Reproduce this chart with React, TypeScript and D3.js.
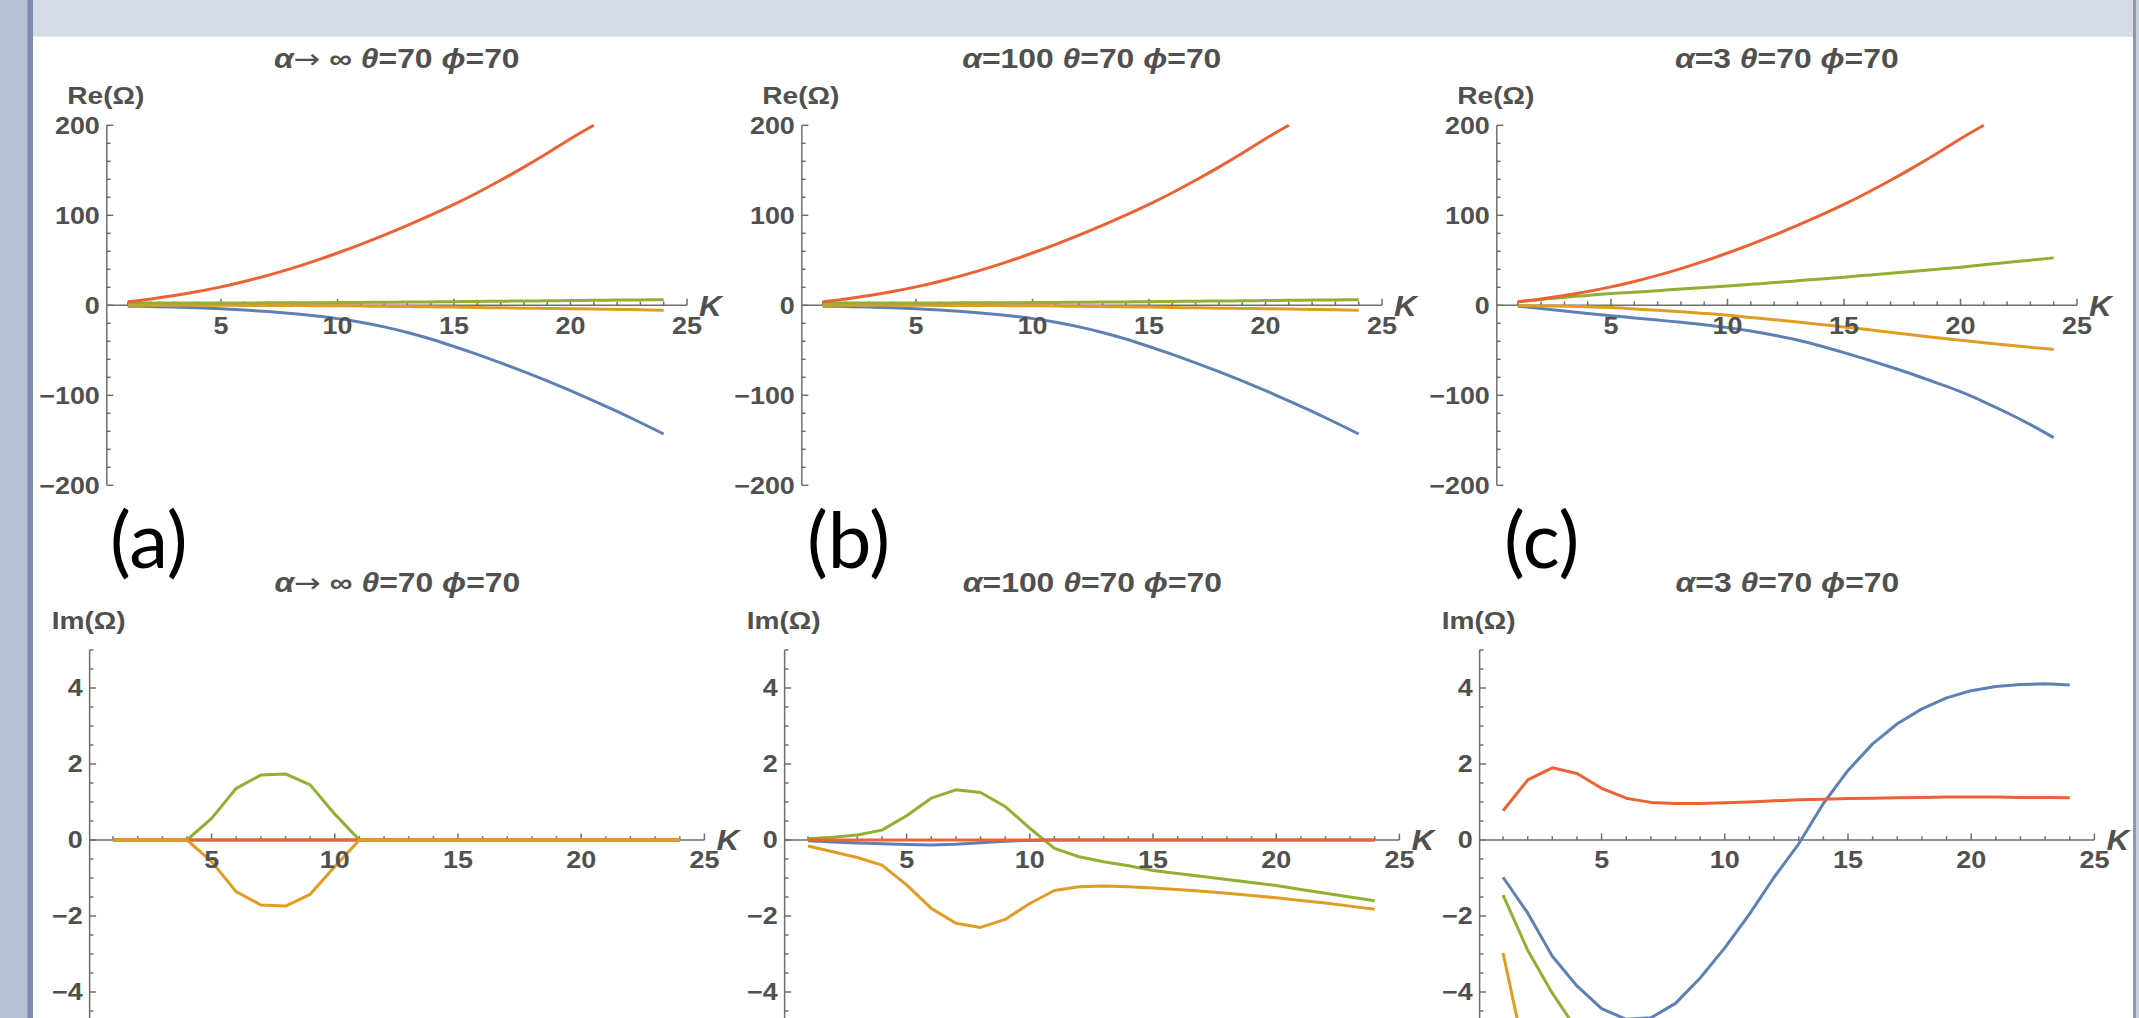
import React from 'react';
import * as d3 from 'd3';

// K sample points (x axis)
const kValues = [1, 2, 3, 4, 5, 6, 7, 8, 9, 10, 11, 12, 13, 14, 15, 16, 17, 18, 19, 20, 21, 22, 23, 24];

// ---- Re(Ω), top row ----
// red leaves the plot range at K=21 (200), same in all three columns
const reRed = [4, 7, 10.8, 15.3, 20.5, 26.5, 33.3, 40.8, 49.1, 58.1, 67.7, 77.9, 88.7, 100.1, 112.1, 125.1, 138.9, 153.5, 168.9, 185.1, 200];
const reBlueA = [-1, -1.4, -2, -2.8, -3.9, -5.3, -7, -9.1, -11.7, -14.8, -18.8, -24, -30.2, -37.4, -45.8, -54.6, -63.9, -73.7, -84, -94.8, -106.1, -117.9, -130.2, -143];
const reGreenA = [2.5, 2.5, 2.5, 2.5, 2.6, 2.6, 2.7, 2.8, 2.9, 3, 3.2, 3.4, 3.6, 3.8, 4, 4.3, 4.5, 4.8, 5, 5.2, 5.5, 5.8, 6, 6.3];
const reOrangeA = [0, 0, 0, 0, 0, -0.1, -0.2, -0.3, -0.4, -0.5, -0.8, -1.1, -1.4, -1.7, -2, -2.4, -2.8, -3.2, -3.5, -3.8, -4.2, -4.6, -5, -5.5];
// alpha=100 looks the same as alpha -> infinity
const reBlueB = reBlueA;
const reGreenB = reGreenA;
const reOrangeB = reOrangeA;
const reBlueC = [-1, -3.5, -6.3, -9, -11.6, -14, -16.4, -18.9, -21.6, -24.8, -28.6, -33.2, -38.6, -45.2, -52.6, -60.4, -68.6, -77.2, -86.4, -96, -107.2, -119.4, -132.6, -147];
const reGreenC = [3.7, 6.5, 9, 11, 13, 14.6, 16.3, 18, 19.7, 21.4, 23.3, 25.2, 27.2, 29.2, 31.3, 33.5, 35.7, 37.9, 40.1, 42.4, 45, 47.6, 50.1, 52.7];
const reOrangeC = [-0.5, -0.7, -1, -1.5, -2.5, -4, -5.5, -7.2, -9, -11, -13.5, -16, -18.6, -21.3, -24, -27, -30, -33, -36, -38.9, -41.6, -44.2, -46.7, -49];

// ---- Im(Ω), bottom row ----
const zeros = [0, 0, 0, 0, 0, 0, 0, 0, 0, 0, 0, 0, 0, 0, 0, 0, 0, 0, 0, 0, 0, 0, 0, 0];
const imBlueA = zeros;
const imRedA = zeros;
const imGreenA = [0, 0, 0, 0, 0.57, 1.36, 1.71, 1.74, 1.45, 0.68, 0, 0, 0, 0, 0, 0, 0, 0, 0, 0, 0, 0, 0, 0];
const imOrangeA = [0, 0, 0, 0, -0.57, -1.36, -1.71, -1.74, -1.43, -0.7, 0, 0, 0, 0, 0, 0, 0, 0, 0, 0, 0, 0, 0, 0];
const imBlueB = [-0.02, -0.05, -0.08, -0.1, -0.12, -0.13, -0.11, -0.07, -0.03, -0.01, 0, 0, 0, 0, 0, 0, 0, 0, 0, 0, 0, 0, 0, 0];
const imRedB = zeros;
const imGreenB = [0.03, 0.07, 0.13, 0.26, 0.64, 1.1, 1.32, 1.25, 0.88, 0.31, -0.22, -0.44, -0.57, -0.68, -0.8, -0.88, -0.96, -1.04, -1.12, -1.2, -1.3, -1.4, -1.5, -1.6];
const imOrangeB = [-0.16, -0.31, -0.46, -0.66, -1.18, -1.8, -2.19, -2.3, -2.09, -1.67, -1.33, -1.23, -1.21, -1.23, -1.26, -1.3, -1.35, -1.4, -1.46, -1.52, -1.59, -1.66, -1.74, -1.82];
const imRedC = [0.77, 1.58, 1.9, 1.75, 1.36, 1.1, 0.99, 0.96, 0.96, 0.98, 1.0, 1.03, 1.06, 1.07, 1.09, 1.1, 1.11, 1.12, 1.13, 1.13, 1.13, 1.12, 1.12, 1.11];
const imBlueC = [-0.98, -1.92, -3.06, -3.84, -4.44, -4.72, -4.68, -4.3, -3.63, -2.84, -1.95, -0.98, -0.1, 0.96, 1.83, 2.53, 3.06, 3.45, 3.74, 3.93, 4.04, 4.09, 4.11, 4.08];
// these run off the bottom of the picture, only the visible start is known
const imGreenC = [-1.45, -2.9, -4.03, -5.0, -5.8];
const imOrangeC = [-2.97, -6.0];

// labels / ticks
const alphaParts = ['\u2192', '=100', '=3'];
const thetaValue = 70;
const phiValue = 70;
const panelLetters = ['(a)', '(b)', '(c)'];
const kTicks = [5, 10, 15, 20, 25];
const reTicks = [-200, -100, 0, 100, 200];
const imTicks = [-4, -2, 0, 2, 4];

const BLUE = '#5E81B5';
const ORANGE = '#E19C24';
const GREEN = '#8FB032';
const RED = '#EB6235';

const FONT = '"Liberation Sans", Arial, sans-serif';
const GREY = '#505050';

const fmt = (v: number) => (v < 0 ? '\u2212' + Math.abs(v) : String(v));

function T({ x, y, anchor = 'start', size = 23, italic = false, dy = '0', children, fill = GREY, weight = 'bold', family = FONT, sx = 1.17 }: any) {
  return (
    <text transform={`translate(${x},${y}) scale(${sx},1)`} textAnchor={anchor} fontSize={size}
      fontStyle={italic ? 'italic' : 'normal'} fontWeight={weight} fill={fill} fontFamily={family} dy={dy}>
      {children}
    </text>
  );
}

type Series = { values: number[]; color: string };

function Plot({ id, col, row, series }: { id: string; col: number; row: number; series: Series[] }) {
  const top = row === 0;
  const x0 = top ? 104.5 + 695 * col : 88.4 + 695 * col;
  const pxK = top ? 23.3 : 24.64;
  const xs = d3.scaleLinear().domain([0, 25]).range([x0, x0 + 25 * pxK]);
  const ys = top
    ? d3.scaleLinear().domain([-200, 200]).range([485.3, 125.3])
    : d3.scaleLinear().domain([-5, 5]).range([1030, 650]);
  const axisX = xs(top ? 0.1 : 0.05);
  const axisY = ys(0);
  const majors = top ? reTicks : imTicks;
  const minors = top ? d3.range(-200, 201, 20) : d3.range(-5, 5.01, 0.5);
  const line = d3.line<[number, number]>()
    .x(d => xs(d[0]))
    .y(d => ys(d[1]))
    .curve(top ? d3.curveMonotoneX : d3.curveLinear);
  const [y1, y2] = ys.range();
  const titleY = top ? 68.3 : 591.6;
  const labelY = top ? 103.5 : 629;

  return (
    <g>
      <defs>
        <clipPath id={id}>
          <rect x={axisX} y={y2 - 2} width={xs(25.5) - axisX} height={y1 - y2 + 4} />
        </clipPath>
      </defs>
      {/* axes */}
      <g stroke="#6e6e6e" strokeWidth={1.5} fill="none">
        <line x1={axisX} x2={axisX} y1={y1} y2={y2} />
        <line x1={axisX} x2={xs(25)} y1={axisY} y2={axisY} />
        {minors.map(v => (
          <line key={'ym' + v} x1={axisX} x2={axisX + (majors.includes(v) ? 6.5 : 3.8)} y1={ys(v)} y2={ys(v)} />
        ))}
        {d3.range(1, 26).map(k => (
          <line key={'xm' + k} x1={xs(k)} x2={xs(k)} y1={axisY} y2={axisY - (k % 5 === 0 ? 6.5 : 3.8)} />
        ))}
      </g>
      {/* data */}
      <g clipPath={`url(#${id})`} fill="none" strokeWidth={3} strokeLinejoin="round">
        {series.map((s, i) => (
          <path key={i} d={line(s.values.map((v, j) => [kValues[j], v] as [number, number])) || ''} stroke={s.color} />
        ))}
      </g>
      {/* tick labels */}
      {majors.map(v => (
        <T key={'yl' + v} x={axisX - 7} y={ys(v)} anchor="end" dy="0.36em">{fmt(v)}</T>
      ))}
      {kTicks.map(k => (
        <T key={'xl' + k} x={xs(k)} y={axisY + 20} anchor="middle" dy="0.36em">{fmt(k)}</T>
      ))}
      <T x={xs(25) + 12} y={axisY} italic size={29} sx={1.08} dy="0.36em">K</T>
      <T x={axisX - 1} y={labelY} anchor="middle" size={24}>{top ? 'Re(\u03A9)' : 'Im(\u03A9)'}</T>
      <T x={xs(12.5) + 1} y={titleY} anchor="middle" size={27} sx={1.18}>
        <tspan fontStyle="italic">{'\u03B1'}</tspan>
        {col === 0
          ? <><tspan fontFamily='"DejaVu Sans", sans-serif' fontWeight="normal">{alphaParts[col]}</tspan>{' \u221E'}</>
          : alphaParts[col]}
        {' '}
        <tspan fontStyle="italic">{'\u03B8'}</tspan>{'=' + thetaValue}{' '}
        <tspan fontStyle="italic">{'\u03D5'}</tspan>{'=' + phiValue}
      </T>
    </g>
  );
}

export default function App() {
  const reSeries: Series[][] = [
    [{ values: reBlueA, color: BLUE }, { values: reOrangeA, color: ORANGE }, { values: reGreenA, color: GREEN }, { values: reRed, color: RED }],
    [{ values: reBlueB, color: BLUE }, { values: reOrangeB, color: ORANGE }, { values: reGreenB, color: GREEN }, { values: reRed, color: RED }],
    [{ values: reBlueC, color: BLUE }, { values: reOrangeC, color: ORANGE }, { values: reGreenC, color: GREEN }, { values: reRed, color: RED }],
  ];
  const imSeries: Series[][] = [
    [{ values: imBlueA, color: BLUE }, { values: imGreenA, color: GREEN }, { values: imRedA, color: RED }, { values: imOrangeA, color: ORANGE }],
    [{ values: imBlueB, color: BLUE }, { values: imGreenB, color: GREEN }, { values: imRedB, color: RED }, { values: imOrangeB, color: ORANGE }],
    [{ values: imBlueC, color: BLUE }, { values: imGreenC, color: GREEN }, { values: imRedC, color: RED }, { values: imOrangeC, color: ORANGE }],
  ];

  return (
    <div>
      <style>{'body{margin:0;}'}</style>
      <svg width={2139} height={1018} style={{ display: 'block' }}>
        <rect x={0} y={0} width={2139} height={1018} fill="#ffffff" />
        {/* slide frame */}
        <rect x={0} y={0} width={28} height={1018} fill="#b8c1d3" />
        <rect x={27.5} y={0} width={5.5} height={1018} fill="#7b8bad" />
        <rect x={33} y={0} width={2100} height={36.7} fill="#d6dce5" />
        <rect x={2133} y={0} width={3} height={1018} fill="#8e9ab3" />
        <rect x={2136} y={0} width={3} height={1018} fill="#c8cfdc" />

        {reSeries.map((s, i) => <Plot key={'re' + i} id={'clipRe' + i} col={i} row={0} series={s} />)}
        {imSeries.map((s, i) => <Plot key={'im' + i} id={'clipIm' + i} col={i} row={1} series={s} />)}

        {panelLetters.map((p, i) => (
          <T key={p} x={110 + 697 * i} y={568} size={78} fill="#000" weight="normal" family='Lato, "Open Sans", sans-serif' sx={1.0}>{p}</T>
        ))}
      </svg>
    </div>
  );
}
